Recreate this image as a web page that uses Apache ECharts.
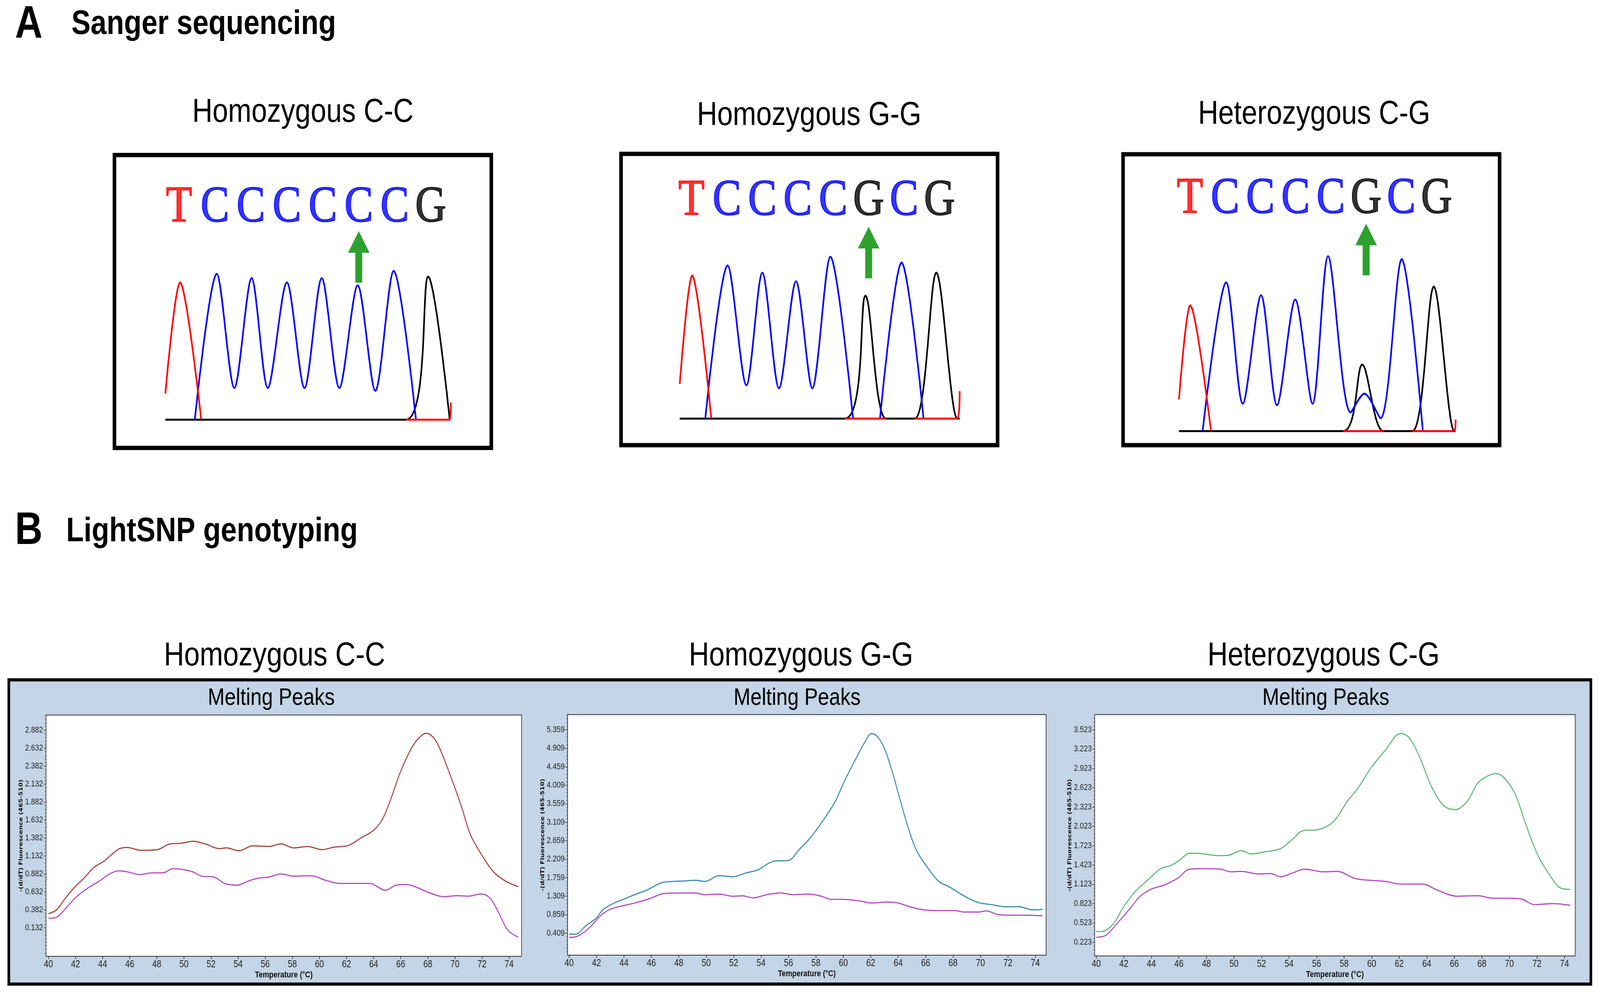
<!DOCTYPE html>
<html>
<head>
<meta charset="utf-8">
<title>Sanger sequencing and LightSNP genotyping</title>
<script src="https://cdn.jsdelivr.net/npm/echarts@6/dist/echarts.min.js"></script>
<style>
html, body { margin: 0; padding: 0; background: #fff; overflow: hidden; }
#frame { position: relative; overflow: hidden; }
#container { position: absolute; left: 0; top: 0; width: 4908px; height: 2548px; transform-origin: 0 0; }
</style>
</head>
<body>
<div id="frame"><div id="container"></div></div>
<script>
// ---- Sanger sequencing: called bases ----
var seqCC = ['T', 'C', 'C', 'C', 'C', 'C', 'C', 'G'];
var seqGG = ['T', 'C', 'C', 'C', 'C', 'G', 'C', 'G'];
var seqCG = ['T', 'C', 'C', 'C', 'C', 'G', 'C', 'G'];
var snpIndex = 5;
var baseColor = { T: '#ff0000', C: '#0000ff', G: '#000000' };

// chromatogram traces: [base position, signal]
var ccRed = [[-0.38, 18], [0.03, 95], [0.62, 0]];
var ccRedBase = [[6.31, 0], [7.53, 0], [7.56, 12]];
var ccBlue = [[0.44, 0], [1.05, 101], [1.54, 22], [2.02, 98], [2.47, 22], [3.0, 95], [3.49, 22],
  [3.97, 98], [4.46, 22], [4.97, 93], [5.46, 20], [5.97, 103], [6.59, 0]];
var ccBlack = [[-0.38, 0], [6.31, 0], [6.93, 99], [7.53, 0]];

var ggRed = [[-0.33, 24], [0.02, 99], [0.56, 0]];
var ggRedBase1 = [[4.33, 0], [5.49, 0]];
var ggRedBase2 = [[6.3, 0], [7.5, 0], [7.57, 19]];
var ggBlue1 = [[0.39, 0], [1.02, 106], [1.55, 23], [2.0, 101], [2.47, 21], [2.95, 95], [3.41, 21], [3.92, 112], [4.56, 0]];
var ggBlue2 = [[5.32, 0], [5.93, 108], [6.55, 0]];
var ggBlack = [[-0.33, 0], [4.33, 0], [4.91, 85], [5.49, 0], [6.3, 0], [6.91, 101], [7.5, 0], [7.57, 0]];

var cgRed = [[-0.31, 22], [0.01, 87], [0.6, 0]];
var cgRedBase1 = [[4.35, 0], [5.49, 0]];
var cgRedBase2 = [[6.31, 0], [7.5, 0], [7.54, 8]];
var cgBlue = [[0.36, 0], [1.03, 103], [1.5, 19], [2.02, 94], [2.47, 18], [2.99, 91], [3.48, 19], [3.92, 121],
  [4.56, 13], [4.95, 26], [5.41, 9], [6.01, 119], [6.61, 0]];
var cgBlack = [[-0.31, 0], [4.35, 0], [4.89, 46], [5.49, 0], [6.31, 0], [6.92, 100], [7.5, 0], [7.54, 0]];

// ---- LightSNP melting peaks: [temperature, -(d/dT) fluorescence] ----
var tempTicks = [40, 42, 44, 46, 48, 50, 52, 54, 56, 58, 60, 62, 64, 66, 68, 70, 72, 74];
var ccTicks = [0.132, 0.382, 0.632, 0.882, 1.132, 1.382, 1.632, 1.882, 2.132, 2.382, 2.632, 2.882];
var ggTicks = [0.409, 0.859, 1.309, 1.759, 2.209, 2.659, 3.109, 3.559, 4.009, 4.459, 4.909, 5.359];
var cgTicks = [0.223, 0.523, 0.823, 1.123, 1.423, 1.723, 2.023, 2.323, 2.623, 2.923, 3.223, 3.523];

var ccMelt = [[40.0, 0.329], [40.6, 0.382], [41.25, 0.544], [41.9, 0.69], [42.7, 0.838], [43.34, 0.97], [44.1, 1.06],
  [45.17, 1.226], [45.8, 1.25], [46.87, 1.21], [48.04, 1.22], [48.96, 1.30], [49.87, 1.31], [50.65, 1.337],
  [51.57, 1.30], [52.61, 1.235], [53.13, 1.244], [54.05, 1.205], [55.09, 1.273], [56.27, 1.264], [57.18, 1.30],
  [58.09, 1.244], [59.14, 1.264], [60.18, 1.22], [61.1, 1.255], [62.14, 1.279], [63.06, 1.382], [63.97, 1.485],
  [64.62, 1.632], [65.27, 1.926], [65.93, 2.279], [66.71, 2.603], [67.36, 2.779], [67.89, 2.838], [68.54, 2.75],
  [69.19, 2.485], [69.84, 2.161], [70.5, 1.808], [71.15, 1.426], [71.93, 1.161], [72.85, 0.911], [73.76, 0.779],
  [74.67, 0.705]];
var ccRef = [[40.0, 0.264], [40.6, 0.279], [41.25, 0.397], [42.04, 0.558], [42.95, 0.69], [43.73, 0.779], [44.52, 0.882],
  [45.17, 0.926], [45.82, 0.911], [46.74, 0.873], [47.65, 0.897], [48.43, 0.897], [49.22, 0.955], [50.0, 0.94],
  [50.65, 0.911], [51.3, 0.852], [52.22, 0.838], [53.0, 0.75], [53.92, 0.726], [54.7, 0.779], [55.48, 0.823],
  [56.27, 0.838], [57.18, 0.882], [58.09, 0.852], [59.4, 0.858], [60.44, 0.794], [61.49, 0.75], [62.53, 0.75],
  [63.7, 0.75], [64.88, 0.655], [65.66, 0.726], [66.45, 0.735], [67.23, 0.69], [68.15, 0.617], [69.19, 0.564],
  [70.1, 0.579], [71.02, 0.573], [71.93, 0.603], [72.59, 0.544], [73.24, 0.338], [73.89, 0.103], [74.67, 0.0]];

var ggMelt = [[40.0, 0.383], [40.47, 0.383], [41.22, 0.589], [41.97, 0.769], [42.46, 0.975], [43.21, 1.129],
  [43.96, 1.232], [44.7, 1.335], [45.7, 1.463], [46.82, 1.643], [47.69, 1.669], [48.43, 1.68], [49.18, 1.695],
  [49.93, 1.669], [50.92, 1.808], [51.92, 1.782], [52.91, 1.875], [53.78, 1.952], [54.9, 2.158], [56.02, 2.183],
  [56.77, 2.44], [57.51, 2.698], [58.38, 3.083], [59.38, 3.598], [60.12, 4.138], [60.99, 4.703], [61.62, 5.089],
  [62.06, 5.269], [62.49, 5.192], [62.99, 4.909], [63.61, 4.292], [64.23, 3.546], [64.85, 2.852], [65.35, 2.415],
  [66.09, 2.029], [66.97, 1.669], [67.84, 1.515], [68.83, 1.309], [69.83, 1.155], [70.82, 1.103], [71.82, 1.052],
  [72.81, 1.052], [73.81, 0.975], [74.55, 0.99]];
var ggRef = [[40.0, 0.306], [40.6, 0.332], [41.47, 0.538], [42.34, 0.846], [43.08, 1.0], [43.96, 1.078], [44.95, 1.155],
  [45.95, 1.258], [46.94, 1.376], [48.18, 1.386], [49.18, 1.386], [49.93, 1.345], [50.92, 1.36], [51.92, 1.309],
  [52.66, 1.319], [53.41, 1.268], [54.4, 1.345], [55.4, 1.386], [56.39, 1.345], [57.39, 1.36], [58.38, 1.309],
  [59.13, 1.232], [59.88, 1.232], [61.12, 1.196], [62.11, 1.144], [63.11, 1.165], [63.98, 1.144], [64.85, 1.052],
  [65.85, 0.975], [67.09, 0.959], [68.08, 0.959], [68.83, 0.923], [69.83, 0.923], [70.45, 0.949], [71.32, 0.856],
  [72.31, 0.846], [73.3, 0.846], [74.55, 0.831]];

var cgMelt = [[40.0, 0.387], [40.57, 0.397], [41.32, 0.528], [41.94, 0.758], [42.81, 1.004], [43.81, 1.201],
  [44.68, 1.365], [45.43, 1.414], [46.05, 1.496], [46.79, 1.604], [47.54, 1.601], [48.79, 1.568], [49.53, 1.571],
  [50.53, 1.644], [51.27, 1.594], [52.27, 1.627], [53.39, 1.677], [54.26, 1.824], [55.01, 1.955], [56.13, 1.972],
  [57.25, 2.103], [58.24, 2.415], [58.99, 2.612], [59.98, 2.94], [60.98, 3.202], [62.1, 3.465], [62.72, 3.399],
  [63.47, 3.104], [64.34, 2.644], [65.21, 2.349], [66.08, 2.283], [66.95, 2.415], [67.7, 2.694], [68.45, 2.808],
  [69.07, 2.841], [69.69, 2.759], [70.44, 2.513], [71.19, 2.054], [72.06, 1.578], [72.93, 1.266], [73.67, 1.07],
  [74.42, 1.043]];
var cgRef = [[40.0, 0.298], [40.7, 0.331], [41.57, 0.528], [42.44, 0.741], [43.19, 0.938], [44.06, 1.053], [44.93, 1.109],
  [45.92, 1.217], [46.79, 1.358], [47.79, 1.365], [49.03, 1.358], [49.78, 1.316], [50.53, 1.322], [51.77, 1.283],
  [52.64, 1.289], [53.39, 1.24], [54.26, 1.299], [55.13, 1.358], [56.5, 1.316], [57.5, 1.322], [58.74, 1.217],
  [59.49, 1.191], [60.98, 1.168], [62.1, 1.125], [63.72, 1.125], [64.71, 1.037], [66.21, 0.938], [67.7, 0.945],
  [68.82, 0.905], [70.19, 0.905], [70.94, 0.889], [71.81, 0.807], [73.18, 0.823], [74.42, 0.797]];

var FONT = "'Liberation Sans', Arial, sans-serif";
var arrowPath = 'path://M50,0 L100,42 L66,42 L66,100 L34,100 L34,42 L0,42 Z';

var sangerPanels = [
  { seq: seqCC, red: [ccRed, ccRedBase], blue: [ccBlue], black: [ccBlack],
    grid: { left: 351, top: 397, width: 1156, height: 750 }, x: [-1.795, 8.685], y: [-19.5, 183.2], letterY: 146.5, arrowY: 112.7 },
  { seq: seqGG, red: [ggRed, ggRedBase1, ggRedBase2], blue: [ggBlue1, ggBlue2], black: [ggBlack],
    grid: { left: 1905, top: 394, width: 1155, height: 746 }, x: [-1.987, 8.638], y: [-18.4, 183.2], letterY: 150.3, arrowY: 114.9 },
  { seq: seqCG, red: [cgRed, cgRedBase1, cgRedBase2], blue: [cgBlue], black: [cgBlack],
    grid: { left: 3445, top: 395, width: 1155, height: 745 }, x: [-1.896, 8.788], y: [-9.7, 191.6], letterY: 160.5, arrowY: 125.7 }
];

var meltPanels = [
  { grid: { left: 141, top: 1831, width: 1459, height: 618 }, x: [39.82, 74.92], y: [-0.265, 3.094],
    ticks: ccTicks, step: 0.25, sample: ccMelt, ref: ccRef, color: '#a8443f' },
  { grid: { left: 1741, top: 1830, width: 1468, height: 616 }, x: [39.89, 74.79], y: [-0.127, 5.729],
    ticks: ggTicks, step: 0.45, sample: ggMelt, ref: ggRef, color: '#3b8db0' },
  { grid: { left: 3358, top: 1830, width: 1474, height: 618 }, x: [39.89, 74.78], y: [0.0095, 3.758],
    ticks: cgTicks, step: 0.3, sample: cgMelt, ref: cgRef, color: '#5fb878' }
];

var grids = [], xAxes = [], yAxes = [], series = [];

sangerPanels.forEach(function (p, i) {
  grids.push(Object.assign({ show: true, borderColor: '#000', borderWidth: 11, backgroundColor: '#fff' }, p.grid));
  xAxes.push({ type: 'value', gridIndex: i, min: p.x[0], max: p.x[1], show: false });
  yAxes.push({ type: 'value', gridIndex: i, min: p.y[0], max: p.y[1], show: false });
  var trace = function (data, color) {
    series.push({ type: 'line', xAxisIndex: i, yAxisIndex: i, data: data, showSymbol: false, smooth: 0.3,
      lineStyle: { color: color, width: 5 }, silent: true });
  };
  p.black.forEach(function (d) { trace(d, baseColor.G); });
  p.blue.forEach(function (d) { trace(d, baseColor.C); });
  p.red.forEach(function (d) { trace(d, baseColor.T); });
  series.push({
    type: 'scatter', xAxisIndex: i, yAxisIndex: i, symbolSize: 1,
    itemStyle: { color: 'rgba(0,0,0,0)' },
    data: p.seq.map(function (b, k) {
      return { value: [k, p.letterY], name: b,
        label: { color: baseColor[b], textBorderColor: baseColor[b], textBorderWidth: 2.5 } };
    }),
    label: { show: true, position: 'inside', formatter: '{b}', fontFamily: "'Liberation Serif', 'DejaVu Serif', serif",
      fontSize: 132 }
  });
  series.push({
    type: 'scatter', xAxisIndex: i, yAxisIndex: i, symbol: arrowPath, symbolSize: [66, 132],
    itemStyle: { color: '#2ea12e', opacity: 1 }, data: [[snpIndex, p.arrowY]]
  });
});

meltPanels.forEach(function (p, j) {
  var gi = 3 + j;
  grids.push(Object.assign({ show: true, borderColor: '#333', borderWidth: 2, backgroundColor: '#fff' }, p.grid));
  xAxes.push({
    type: 'value', gridIndex: gi, min: p.x[0], max: p.x[1],
    axisLine: { show: true, onZero: false, lineStyle: { color: '#333', width: 2 } },
    axisTick: { show: true, customValues: tempTicks, length: 7, lineStyle: { color: '#333', width: 2 } },
    axisLabel: { customValues: tempTicks, fontFamily: FONT, fontSize: 25, color: '#222', margin: 9 },
    splitLine: { show: false },
    name: 'Temperature (°C)', nameLocation: 'middle', nameGap: 37,
    nameTextStyle: { fontFamily: FONT, fontWeight: 'bold', fontSize: 22, color: '#111' }
  });
  yAxes.push({
    type: 'value', gridIndex: gi, min: p.y[0], max: p.y[1],
    axisLine: { show: true, onZero: false, lineStyle: { color: '#333', width: 2 } },
    axisTick: { show: true, customValues: p.ticks, length: 7, lineStyle: { color: '#444', width: 2 } },
    axisLabel: { customValues: p.ticks, fontFamily: FONT, fontSize: 22, color: '#222', margin: 9,
      formatter: function (v) { return v.toFixed(3); } },
    splitLine: { show: false },
    name: '-(d/dT) Fluorescence (465-510)', nameLocation: 'middle', nameGap: 66,
    nameTextStyle: { fontFamily: "'DejaVu Sans', sans-serif", fontWeight: 'bold', fontSize: 16.5, color: '#111' }
  });
  series.push({ type: 'line', xAxisIndex: gi, yAxisIndex: gi, data: p.sample, showSymbol: false, smooth: 0.35,
    lineStyle: { color: p.color, width: 3 }, silent: true });
  series.push({ type: 'line', xAxisIndex: gi, yAxisIndex: gi, data: p.ref, showSymbol: false, smooth: 0.35,
    lineStyle: { color: '#b44cc0', width: 3 }, silent: true });
});

// minor y ticks on a second, label-less axis per melting panel
meltPanels.forEach(function (p, j) {
  var minor = [];
  var sub = p.step / 5;
  var start = p.ticks[0] - Math.floor((p.ticks[0] - p.y[0]) / sub) * sub;
  for (var v = start; v <= p.y[1] + 1e-9; v += sub) minor.push(+v.toFixed(4));
  yAxes.push({
    type: 'value', gridIndex: 3 + j, min: p.y[0], max: p.y[1], position: 'left',
    axisLine: { show: false, onZero: false }, axisLabel: { show: false }, splitLine: { show: false },
    axisTick: { show: true, customValues: minor, length: 4, lineStyle: { color: '#555', width: 1.5 } }
  });
});

function label(text, x, y, size, weight, align) {
  return { type: 'text', x: x, y: y, z: 10,
    style: { text: text, fill: '#000', font: (weight || 'normal') + ' ' + size + 'px ' + FONT,
      align: align || 'center', verticalAlign: 'middle' } };
}

var graphics = [
  { type: 'rect', z: -10, shape: { x: 27, y: 1741, width: 4853, height: 779 },
    style: { fill: '#c3d5e6', stroke: '#000', lineWidth: 8 } },
  label('A', 46, 65, 117, 'bold', 'left'),
  label('Sanger sequencing', 219, 63, 88, 'bold', 'left'),
  label('Homozygous C-C', 929, 288, 86),
  label('Homozygous G-G', 2482, 296, 86),
  label('Heterozygous C-G', 4031, 293, 86),
  label('B', 46, 1361, 117, 'bold', 'left'),
  label('LightSNP genotyping', 203, 1362, 88, 'bold', 'left'),
  label('Homozygous C-C', 842, 1680, 86),
  label('Homozygous G-G', 2457, 1680, 86),
  label('Heterozygous C-G', 4060, 1680, 86),
  label('Melting Peaks', 832, 1788, 62),
  label('Melting Peaks', 2445, 1788, 62),
  label('Melting Peaks', 4067, 1788, 62)
];

// the window can be narrower than 4908 px: map the whole 4908x2548 drawing onto the window
var W = 4908, H = 2548;
var sx = window.innerWidth / W, sy = window.innerHeight / H;
var frame = document.getElementById('frame');
frame.style.width = window.innerWidth + 'px';
frame.style.height = window.innerHeight + 'px';
var dom = document.getElementById('container');
dom.style.transform = 'scale(' + sx + ',' + sy + ')';

var myChart = echarts.init(dom, null, { width: W, height: H, devicePixelRatio: 1 });
var option = {
  backgroundColor: '#fff',
  animation: false,
  grid: grids,
  xAxis: xAxes,
  yAxis: yAxes,
  series: series,
  graphic: graphics
};
myChart.setOption(option);
</script>
</body>
</html>
